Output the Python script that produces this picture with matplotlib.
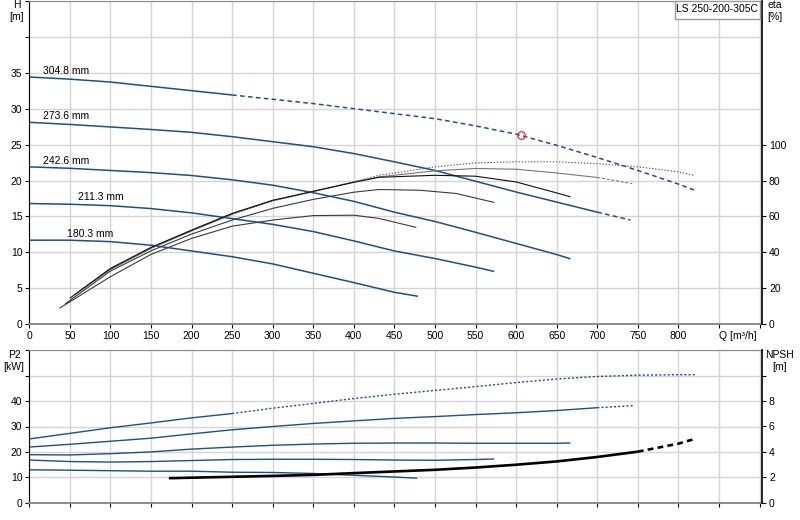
import matplotlib
matplotlib.use("Agg")
import matplotlib.pyplot as plt
from matplotlib.patches import Rectangle
import numpy as np

plt.rcParams['font.family'] = ['Liberation Sans', 'DejaVu Sans']
plt.rcParams['font.size'] = 7.5

# impeller diameters
diam_labels = ["304.8 mm", "273.6 mm", "242.6 mm", "211.3 mm", "180.3 mm"]
label_q = [17, 17, 17, 60, 46]

# head curves  (Q [m3/h], H [m])
q_h_3048 = [0, 50, 100, 150, 200, 250, 300, 350, 400, 450, 500, 550, 600, 650, 700, 750, 800, 820]
h_3048 = [34.4, 34.1, 33.7, 33.1, 32.5, 31.9, 31.3, 30.7, 30.0, 29.3, 28.6, 27.6, 26.45, 24.9, 23.2, 21.4, 19.5, 18.65]
q_h_2736 = [0, 50, 100, 150, 200, 250, 300, 350, 400, 450, 500, 550, 600, 650, 700, 741]
h_2736 = [28.1, 27.8, 27.45, 27.1, 26.7, 26.1, 25.4, 24.7, 23.75, 22.6, 21.4, 19.9, 18.4, 17.0, 15.6, 14.5]
q_h_2426 = [0, 50, 100, 150, 200, 250, 300, 350, 400, 450, 500, 550, 600, 650, 667]
h_2426 = [21.9, 21.7, 21.4, 21.1, 20.7, 20.1, 19.35, 18.3, 17.1, 15.6, 14.3, 12.8, 11.25, 9.7, 9.1]
q_h_2113 = [0, 50, 100, 150, 200, 250, 300, 350, 400, 450, 500, 550, 573]
h_2113 = [16.8, 16.7, 16.5, 16.1, 15.5, 14.7, 13.9, 12.9, 11.6, 10.2, 9.15, 7.95, 7.35]
q_h_1803 = [0, 50, 100, 150, 200, 250, 300, 350, 400, 450, 479]
h_1803 = [11.7, 11.7, 11.5, 11.0, 10.2, 9.4, 8.4, 7.1, 5.8, 4.45, 3.9]

# efficiency curves (Q, eta [%])
q_e_3048 = [62, 100, 150, 200, 250, 300, 350, 400, 431, 500, 550, 600, 650, 700, 750, 800, 819]
e_3048 = [18.5, 30.5, 42.3, 52.0, 61.2, 68.6, 73.8, 79.3, 82.9, 87.6, 89.8, 90.4, 90.4, 89.4, 87.6, 84.8, 82.9]
q_e_2736 = [56, 100, 150, 200, 250, 300, 350, 400, 431, 500, 550, 600, 650, 700, 743]
e_2736 = [16.5, 30.8, 42.5, 52.2, 61.5, 68.8, 74.0, 79.2, 82.0, 85.4, 86.7, 86.3, 84.2, 81.7, 78.3]
q_e_2426 = [50, 100, 150, 200, 250, 300, 350, 400, 431, 500, 550, 600, 650, 667]
e_2426 = [14.5, 31.1, 42.8, 52.4, 61.7, 69.0, 74.0, 79.0, 81.8, 82.9, 82.4, 79.2, 73.1, 70.9]
q_e_2113 = [44, 100, 150, 200, 250, 300, 350, 400, 431, 481, 526, 573]
e_2113 = [11.3, 29.6, 40.9, 50.2, 58.0, 64.5, 69.5, 73.5, 75.0, 74.6, 72.8, 67.8]
q_e_1803 = [37, 50, 100, 150, 200, 250, 300, 350, 400, 431, 477]
e_1803 = [8.9, 12.5, 26.5, 38.9, 47.8, 54.6, 58.0, 60.5, 60.7, 58.9, 53.9]

# shaft power (Q, P2 [kW])
q_p_3048 = [0, 50, 100, 150, 200, 250, 300, 350, 400, 450, 500, 550, 600, 650, 700, 750, 800, 820]
p_3048 = [25.1, 27.3, 29.5, 31.4, 33.4, 35.1, 37.2, 39.1, 41.0, 42.7, 44.2, 45.7, 47.3, 48.7, 49.7, 50.2, 50.4, 50.4]
q_p_2736 = [0, 50, 100, 150, 200, 250, 300, 350, 400, 450, 500, 550, 600, 650, 700, 744]
p_2736 = [21.9, 23.0, 24.2, 25.4, 27.1, 28.7, 30.0, 31.2, 32.2, 33.2, 33.9, 34.7, 35.4, 36.3, 37.4, 38.2]
q_p_2426 = [0, 50, 100, 150, 200, 250, 300, 350, 400, 450, 500, 550, 600, 650, 667]
p_2426 = [18.9, 18.8, 19.3, 20.0, 21.1, 21.9, 22.6, 23.1, 23.4, 23.5, 23.5, 23.4, 23.4, 23.4, 23.5]
q_p_2113 = [0, 50, 100, 150, 200, 250, 300, 350, 400, 450, 500, 550, 573]
p_2113 = [16.8, 16.2, 16.0, 16.2, 16.6, 17.0, 17.1, 17.1, 17.0, 16.8, 16.7, 17.0, 17.2]
q_p_1803 = [0, 50, 100, 150, 200, 250, 300, 350, 400, 450, 478]
p_1803 = [12.95, 12.8, 12.6, 12.4, 12.4, 12.0, 11.9, 11.5, 10.8, 10.1, 9.65]

# NPSH required
q_npsh = [172, 250, 300, 350, 400, 450, 500, 550, 600, 650, 700, 750, 800, 820]
npsh = [1.93, 2.04, 2.11, 2.19, 2.33, 2.46, 2.59, 2.77, 2.99, 3.25, 3.6, 4.02, 4.65, 5.02]

# duty point
duty_q = [606]
duty_h = [26.3]

blue = '#1d4e8d'
grid_c = '#d4d4d4'


def split_plot(ax, q, y, split, color, lw, ls_after, ls_before='-'):
    """solid up to split Q, other style after it"""
    q = np.asarray(q, float)
    y = np.asarray(y, float)
    if split is None:
        ax.plot(q, y, color=color, lw=lw, ls=ls_before, solid_capstyle='butt')
        return
    a = q <= split
    b = q >= split
    ax.plot(q[a], y[a], color=color, lw=lw, ls=ls_before, solid_capstyle='butt')
    ax.plot(q[b], y[b], color=color, lw=lw, ls=ls_after, dash_capstyle='butt')


def style_axes(ax):
    ax.set_xlim(0, 903)
    ax.spines['left'].set_color('black')
    ax.spines['right'].set_visible(False)
    ax.spines['top'].set_color('#8c8c8c')
    ax.spines['bottom'].set_color('#8c8c8c')
    ax.spines['bottom'].set_linewidth(1.4)
    ax.set_xticks(np.arange(0, 901, 50))
    ax.grid(True, color=grid_c, lw=1.0)
    ax.set_axisbelow(True)
    ax.tick_params(length=3, width=0.8, pad=2, colors='black', labelsize=7.5)


fig = plt.figure(figsize=(8, 5.2), dpi=100)

# ---------------- head / efficiency ----------------
ax = fig.add_axes([29.3 / 800, 1 - 324.3 / 520, (762 - 29.3) / 800, 323.5 / 520])
style_axes(ax)
ax.set_ylim(0, 45)
ax.set_yticks(np.arange(0, 46, 5))
ax.set_yticklabels([str(v) if v <= 35 else '' for v in range(0, 46, 5)])
ax.set_xticklabels([str(v) if v <= 800 else '' for v in range(0, 901, 50)])
ax.annotate("Q [m³/h]", xy=(850, 0), xycoords=('data', 'axes fraction'),
            xytext=(0, -5), textcoords='offset points', ha='left', va='top', fontsize=7.5)

axe = ax.twinx()
axe.set_ylim(0, 180)
axe.set_yticks(np.arange(0, 101, 20))
for s in ['left', 'top', 'bottom']:
    axe.spines[s].set_visible(False)
axe.spines['right'].set_color('black')
axe.spines['right'].set_linewidth(1.2)
axe.tick_params(length=3, width=0.8, pad=2, labelsize=7.5)

heads = [(q_h_3048, h_3048, 250), (q_h_2736, h_2736, 700), (q_h_2426, h_2426, None),
         (q_h_2113, h_2113, None), (q_h_1803, h_1803, None)]
for (q, h, sp), lab, lq in zip(heads, diam_labels, label_q):
    split_plot(ax, q, h, sp, blue, 1.1, (0, (3, 2.2)))
    ax.annotate(lab, xy=(lq, h[0]), xytext=(0, 4.5), textcoords='offset points',
                ha='left', va='center', fontsize=7.5)

effs = [(q_e_3048, e_3048, 250, '#555555', (0, (1.2, 1.6))),
        (q_e_2736, e_2736, 700, '#777777', (0, (2.5, 1.8))),
        (q_e_2426, e_2426, None, '#111111', '-'),
        (q_e_2113, e_2113, None, '#3a3a3a', '-'),
        (q_e_1803, e_1803, None, '#3a3a3a', '-')]
for q, e, sp, c, ls in effs:
    split_plot(axe, q, e, sp, c, 0.8, ls)

ax.plot(duty_q, duty_h, 'o', mfc='none', mec='#e8303a', ms=5.5, mew=0.9)

# ---------------- power / NPSH ----------------
bx = fig.add_axes([29.3 / 800, 1 - 502.7 / 520, (762 - 29.3) / 800, 152.4 / 520])
style_axes(bx)
bx.set_ylim(0, 60)
bx.set_yticks(np.arange(0, 61, 10))
bx.set_yticklabels([str(v) if v <= 40 else '' for v in range(0, 61, 10)])
bx.set_xticklabels([])

bn = bx.twinx()
bn.set_ylim(0, 12)
bn.set_yticks(np.arange(0, 11, 2))
bn.set_yticklabels([str(v) if v <= 8 else '' for v in range(0, 11, 2)])
for s in ['left', 'top', 'bottom']:
    bn.spines[s].set_visible(False)
bn.spines['right'].set_color('black')
bn.spines['right'].set_linewidth(1.2)
bn.tick_params(length=3, width=0.8, pad=2, labelsize=7.5)

powers = [(q_p_3048, p_3048, 250), (q_p_2736, p_2736, 700), (q_p_2426, p_2426, None),
          (q_p_2113, p_2113, None), (q_p_1803, p_1803, None)]
for q, p, sp in powers:
    split_plot(bx, q, p, sp, blue, 1.0, (0, (1.5, 1.5)))

split_plot(bn, q_npsh, npsh, 750, 'black', 1.9, (0, (2.2, 1.6)))

# axis titles and type box
fig.text(17 / 800, 1 - 5 / 520, "H", ha='center', va='center', fontsize=7.5)
fig.text(17 / 800, 1 - 17 / 520, "[m]", ha='center', va='center', fontsize=7.5)
fig.text(775 / 800, 1 - 5 / 520, "eta", ha='center', va='center', fontsize=7.5)
fig.text(775 / 800, 1 - 17 / 520, "[%]", ha='center', va='center', fontsize=7.5)
fig.text(14 / 800, 1 - 355 / 520, "P2", ha='center', va='center', fontsize=7.5)
fig.text(14 / 800, 1 - 367.5 / 520, "[kW]", ha='center', va='center', fontsize=7.5)
fig.text(780 / 800, 1 - 355.5 / 520, "NPSH", ha='center', va='center', fontsize=7.5)
fig.text(780 / 800, 1 - 367.5 / 520, "[m]", ha='center', va='center', fontsize=7.5)

fig.patches.append(Rectangle((675 / 800, 1 - 19 / 520), 85 / 800, 18.5 / 520,
                             transform=fig.transFigure, facecolor='white',
                             edgecolor='#9a9a9a', lw=1.0, zorder=5))
fig.text(717.5 / 800, 1 - 9.5 / 520, "LS 250-200-305C", ha='center', va='center',
         fontsize=7.5, zorder=6)

fig.savefig("out.png", dpi=100)
